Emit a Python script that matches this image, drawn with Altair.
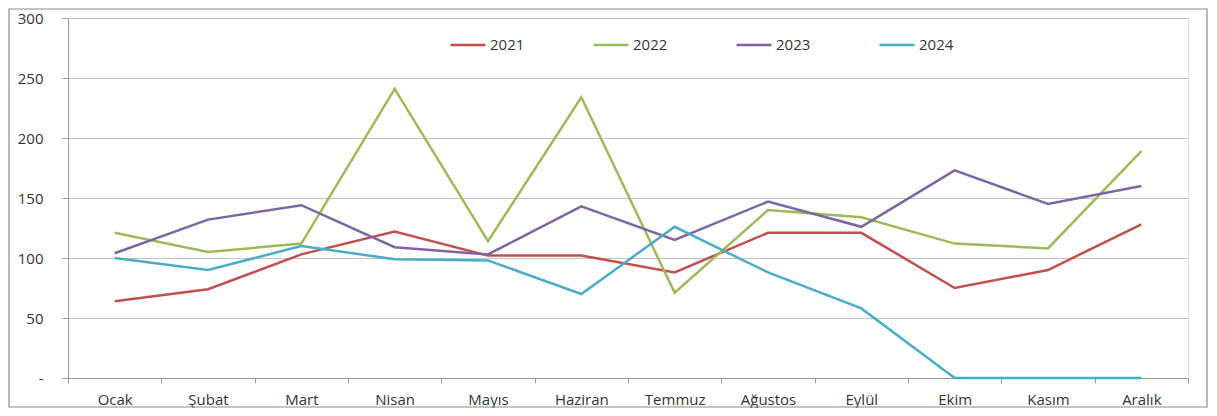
import altair as alt
import pandas as pd

months = ["Ocak", "Şubat", "Mart", "Nisan", "Mayıs", "Haziran", "Temmuz",
          "Ağustos", "Eylül", "Ekim", "Kasım", "Aralık"]
years = ["2021", "2022", "2023", "2024"]
v2021 = [64, 74, 103, 122, 102, 102, 88, 121, 121, 75, 90, 128]
v2022 = [121, 105, 112, 241, 114, 234, 71, 140, 134, 112, 108, 189]
v2023 = [104, 132, 144, 109, 103, 143, 115, 147, 126, 173, 145, 160]
v2024 = [100, 90, 110, 99, 98, 70, 126, 88, 58, 0, 0, 0]
colors = ["#C0504D", "#9BBB59", "#8064A2", "#4BACC6"]
y_ticks = [0, 50, 100, 150, 200, 250, 300]

rows = []
for yr, vals in zip(years, [v2021, v2022, v2023, v2024]):
    for m, v in zip(months, vals):
        rows.append({"Ay": m, "Yıl": yr, "Değer": v})
df = pd.DataFrame(rows)

FONT = "Open Sans"
W, H = 1120, 360

lines = alt.Chart(df).mark_line(strokeWidth=2.5, clip=False).encode(
    x=alt.X("Ay:N", sort=months, bandPosition=0.5,
            scale=alt.Scale(type="band", paddingInner=0, paddingOuter=0),
            axis=alt.Axis(title=None, labelAngle=0, tickBand="extent",
                          grid=False, domainColor="#999", tickColor="#999",
                          tickSize=5, labelPadding=9, labelFontSize=15,
                          labelFont=FONT, labelColor="#333")),
    y=alt.Y("Değer:Q", scale=alt.Scale(domain=[0, 300], nice=False),
            axis=alt.Axis(title=None, values=y_ticks, grid=True,
                          gridColor="#c4c4c4", domainColor="#999",
                          tickColor="#999", tickSize=6, labelPadding=19,
                          labelFontSize=15, labelFont=FONT, labelColor="#333",
                          labelExpr="datum.value == 0 ? '-' : datum.label")),
    color=alt.Color("Yıl:N", sort=years,
                    scale=alt.Scale(domain=years, range=colors),
                    legend=alt.Legend(title=None, orient="none", direction="horizontal",
                                      legendX=381, legendY=8, symbolType="stroke",
                                      symbolSize=1225, symbolStrokeWidth=2.5,
                                      labelFontSize=15, labelFont=FONT,
                                      labelColor="#333", labelOffset=3,
                                      columnPadding=63, padding=0)),
    detail="Yıl:N",
)

frame = alt.Chart(pd.DataFrame({"f": [0]})).mark_rect(
    filled=False, stroke="#8a8a8a", strokeWidth=1.2, clip=False
).encode(x=alt.value(-59), x2=alt.value(W + 19), y=alt.value(-9), y2=alt.value(H + 29))

chart = alt.layer(frame, lines).properties(
    width=W, height=H,
    autosize=alt.AutoSizeParams(type="none"),
    padding={"left": 60, "top": 10, "right": 21, "bottom": 30},
).configure_view(stroke=None).configure(background="white")

chart.save("out.html", embed_options={"renderer": "svg", "actions": False})
